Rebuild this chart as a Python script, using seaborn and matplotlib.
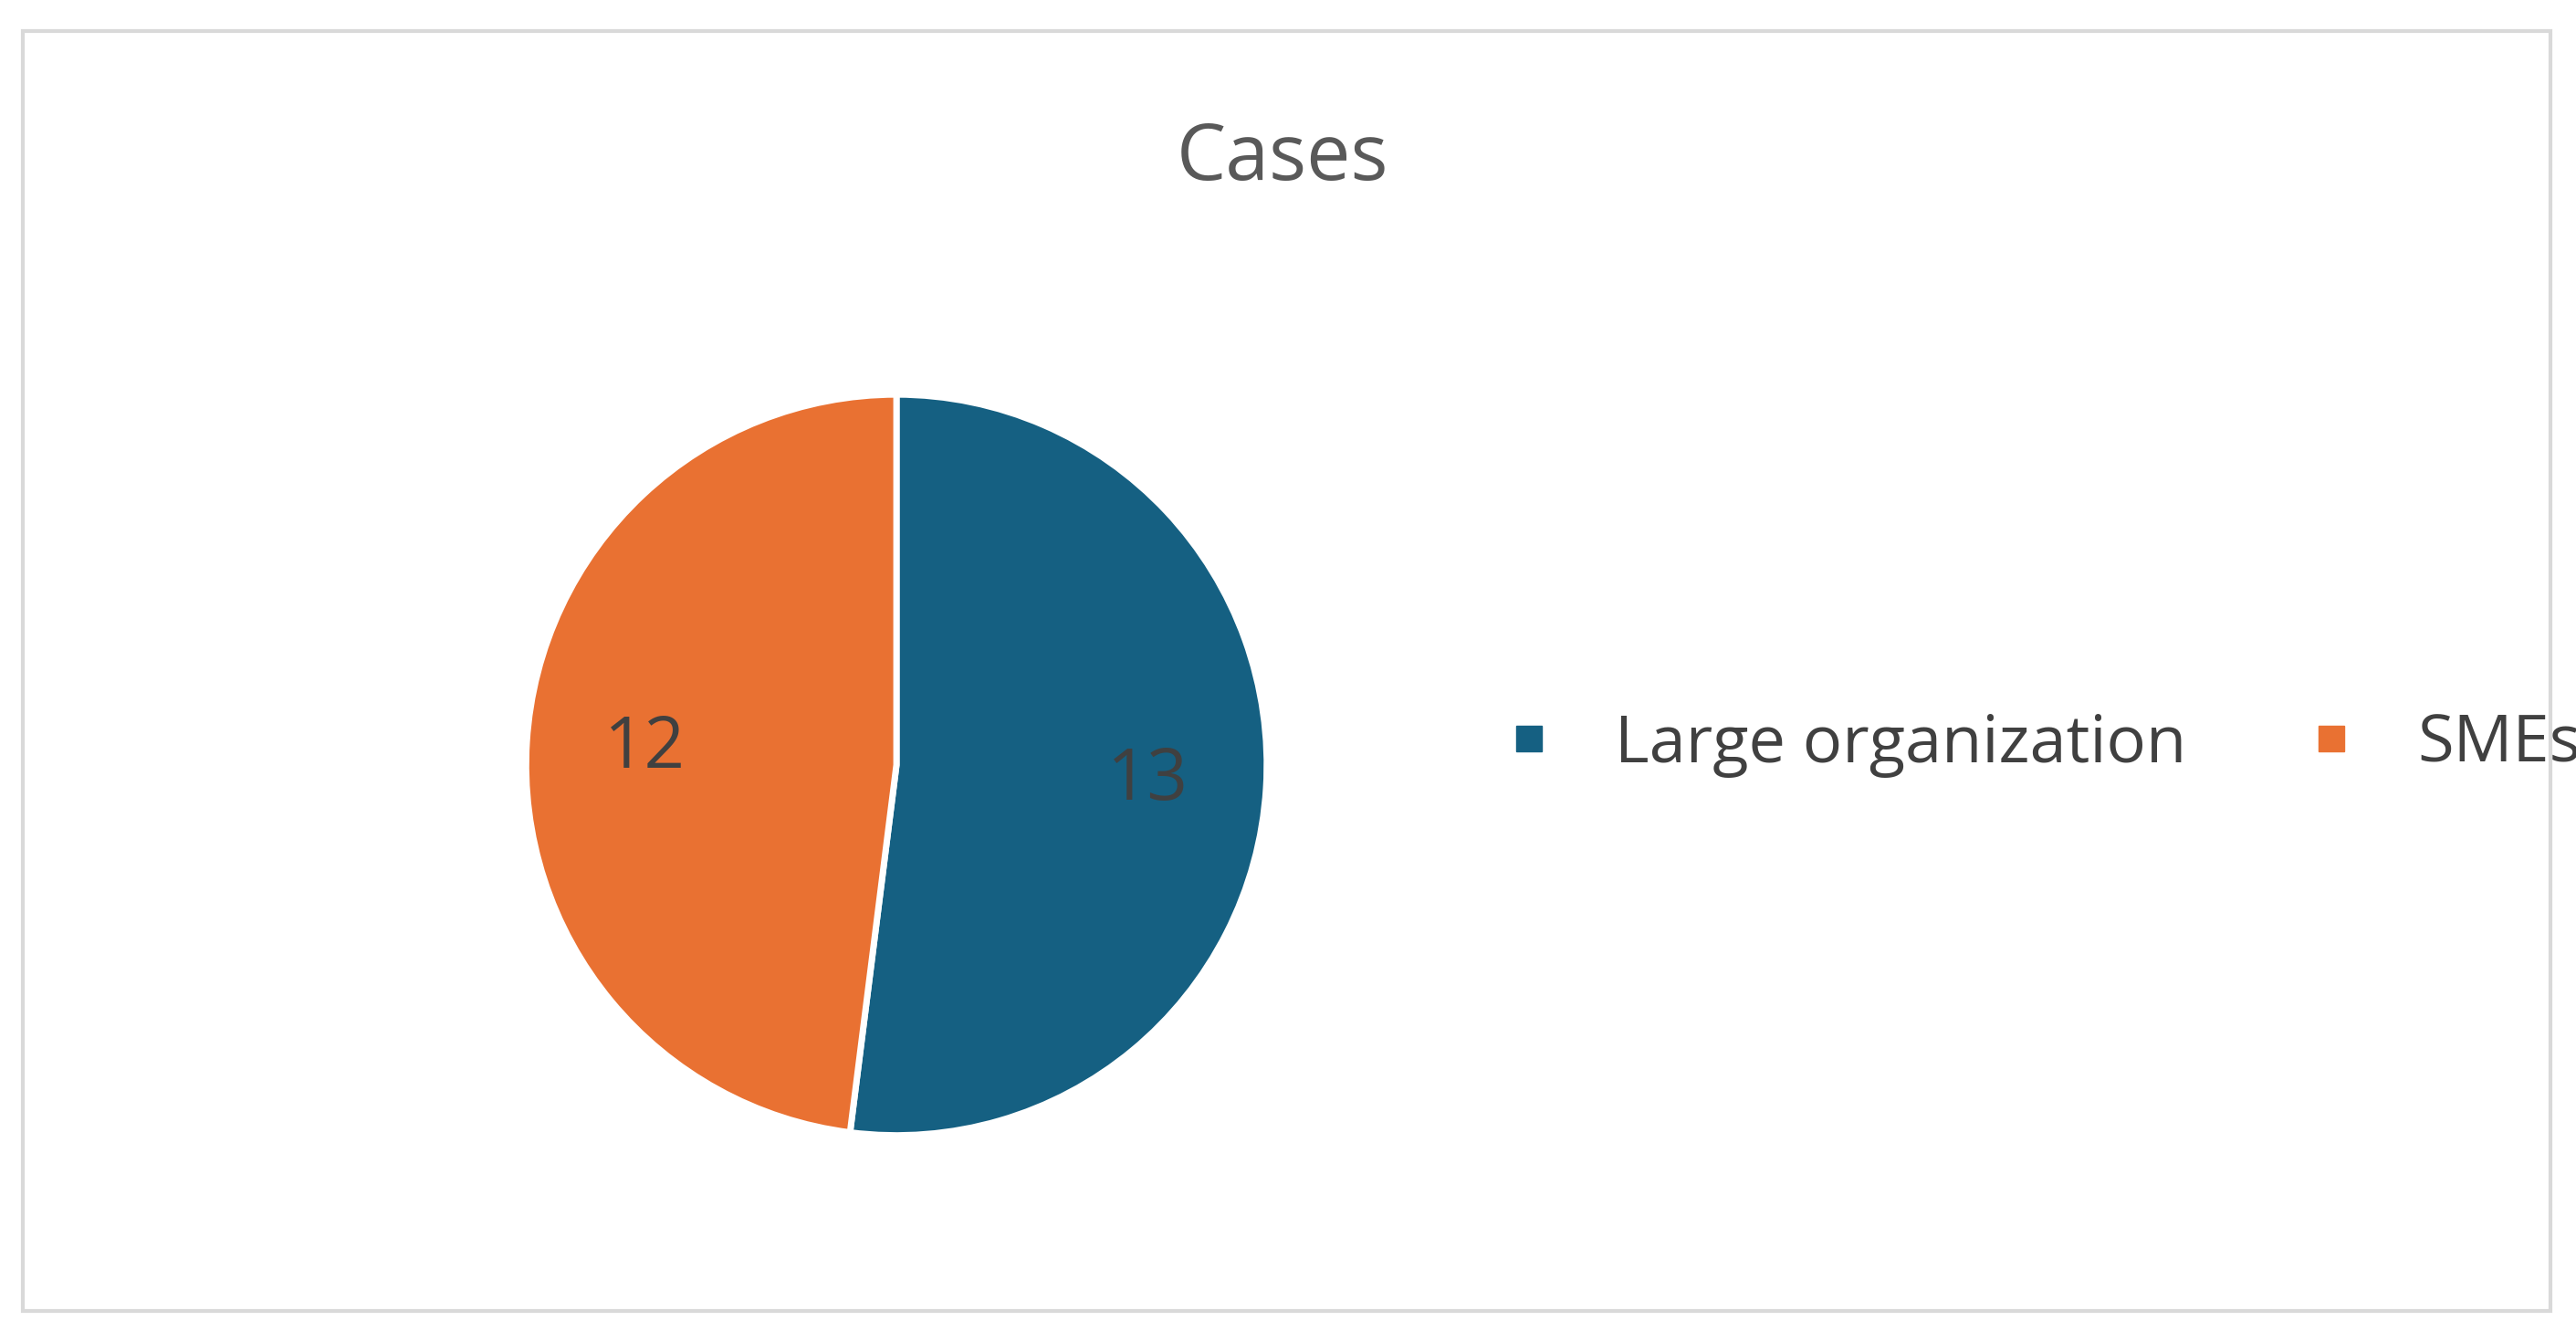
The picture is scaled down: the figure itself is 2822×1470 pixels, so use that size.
import matplotlib
matplotlib.use("Agg")
import matplotlib.pyplot as plt
import seaborn as sns
from matplotlib.patches import Rectangle
from matplotlib.lines import Line2D

categories = ["Large organization", "SMEs"]
values = [13, 12]
title = "Cases"

sns.set_theme(style="white")
plt.rcParams['font.family'] = ['Open Sans', 'DejaVu Sans']
colors = sns.color_palette(["#156082", "#E97132"])
text_col = "#404040"

W, H = 2822, 1470
fig = plt.figure(figsize=(W / 100, H / 100), dpi=100)
fig.patch.set_facecolor("white")

# outer chart border
fig.add_artist(Rectangle((0.009, 0.023), 0.981, 0.954, transform=fig.transFigure,
                         fill=False, edgecolor="#d9d9d9", linewidth=3))

# pie axes
cx, cy, rh = 0.348, 0.430, 0.276
rw = rh * H / W
ax = fig.add_axes([cx - rw, cy - rh, 2 * rw, 2 * rh])
wedges, texts = ax.pie(values, colors=colors, startangle=90, counterclock=False,
                       labels=[str(v) for v in values], labeldistance=0.68,
                       wedgeprops=dict(edgecolor="white", linewidth=5),
                       textprops=dict(fontsize=56, color=text_col))
for t in texts:
    t.set_ha("center")
    t.set_va("center")
ax.set_xlim(-1.0, 1.0)
ax.set_ylim(-1.0, 1.0)
ax.set_aspect("equal")
ax.axis("off")

fig.text(0.498, 0.881, title, ha="center", va="center", fontsize=62, color="#595959")

handles = [Line2D([], [], marker="s", linestyle="none", markersize=20,
                  markerfacecolor=c, markeredgecolor=c) for c in colors]
fig.legend(handles, categories, loc="center", bbox_to_anchor=(0.785, 0.445), ncol=2,
           frameon=False, fontsize=52, handletextpad=0.3, columnspacing=1.2,
           labelcolor=text_col)

fig.savefig("out.png", dpi=100, facecolor="white")
